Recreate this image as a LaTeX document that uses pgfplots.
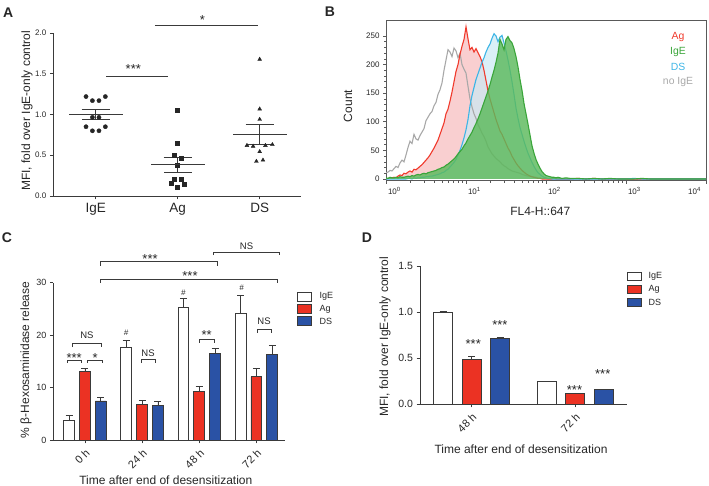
\documentclass[border=0pt]{standalone}
\usepackage{fontspec}
\setmainfont{Liberation Sans}
\usepackage{pgfplots}
\usepackage{pgfplotstable}
\pgfplotsset{compat=1.18}

\definecolor{axisgray}{HTML}{3A3A3A}
\definecolor{agred}{HTML}{EB3223}
\definecolor{dsblue}{HTML}{2A52A5}
\definecolor{hred}{HTML}{F03A2C}
\definecolor{hpink}{HTML}{F9CFD0}
\definecolor{hcyan}{HTML}{3DB5E6}
\definecolor{hcyanfill}{HTML}{CBE9F4}
\definecolor{hgreen}{HTML}{3AA53A}
\definecolor{hgreenfill}{HTML}{5CBA5C}
\definecolor{hgrey}{HTML}{A8A8A8}

\newcommand{\fsz}[1]{\fontsize{#1}{#1}\selectfont}

\tikzset{
  br/.style={line width=0.8pt, draw=axisgray},
  star/.style={font=\fsz{13}, anchor=base, inner sep=0pt, text=black!85},
  ns/.style={font=\fsz{9.5}, inner sep=0pt, text=black!85},
  hash/.style={font=\fsz{8}\itshape, inner sep=0pt, text=black!85},
}

\pgfplotsset{
  prism/.style={
    scale only axis, clip=false,
    axis x line*=bottom, axis y line*=left,
    axis line style={-, line width=0.8pt, draw=axisgray},
    tick style={line width=0.8pt, draw=axisgray},
    tick align=outside, major tick length=3.5pt,
    /pgf/number format/assume math mode=true,
    tick label style={text=black!85},
  },
  % bars sit at their own x (group position plus offset), so no bar shift
  pbar/.style={
    ybar, bar shift=0pt, fill=#1, draw=axisgray, line width=0.8pt,
    error bars/.cd, y dir=plus, y explicit, error mark=-,
    error mark options={rotate=90, line width=0.8pt, mark size=3.5pt, draw=axisgray},
    error bar style={line width=0.8pt, draw=axisgray},
  },
  semstyle/.style={
    only marks, mark=-, mark size=#1, mark options={line width=0.9pt, draw=axisgray},
    error bars/.cd, y dir=both, y explicit, error mark=-,
    error mark options={rotate=90, line width=0.9pt, mark size=14pt, draw=axisgray},
    error bar style={line width=0.9pt, draw=axisgray},
  },
}

% flow cytometry histograms: d = log10 of FL4-H, counts per channel
\pgfplotstableread{
d     noige ag  ds  ige
0.000 11   0   0   2
0.025 12   1   0   1
0.050 15   1   0   3
0.075 14   2   0   2
0.100 18   3   0   2
0.125 22   2   0   3
0.150 20   5   0   2
0.175 28   7   0   4
0.200 33   6   0   3
0.225 30   10  0   3
0.250 42   9   0   4
0.275 55   12  1   5
0.300 66   14  1   4
0.325 62   12  0   6
0.350 78   17  2   5
0.375 70   16  1   7
0.400 68   19  2   8
0.425 76   22  2   7
0.450 82   25  3   9
0.475 88   29  3   10
0.500 102  33  4   9
0.525 108  37  4   11
0.550 114  42  5   12
0.575 118  48  5   13
0.600 128  54  6   14
0.625 134  61  7   15
0.650 148  68  8   17
0.675 156  78  9   18
0.700 168  88  11  20
0.725 190  98  12  21
0.750 208  114 15  24
0.775 226  122 17  26
0.800 222  136 21  29
0.825 214  152 25  32
0.850 229  170 29  35
0.875 224  188 34  39
0.900 212  200 42  44
0.925 220  218 50  48
0.950 200  232 60  52
0.975 192  244 72  58
1.000 185  266 86  63
1.025 162  245 104 70
1.050 140  226 128 76
1.075 126  230 146 82
1.100 114  222 160 90
1.125 106  228 174 97
1.150 95   221 184 105
1.175 88   214 194 114
1.200 80   205 204 124
1.225 74   190 212 134
1.250 66   172 222 144
1.275 56   154 230 154
1.300 50   140 236 165
1.325 44   128 246 178
1.350 40   116 254 190
1.375 36   104 250 204
1.400 33   94  240 220
1.425 30   84  248 244
1.450 26   78  251 236
1.475 23   70  238 226
1.500 21   62  224 244
1.525 18   54  208 249
1.550 16   48  190 242
1.575 14   40  170 238
1.600 13   34  148 228
1.625 12   28  124 214
1.650 11   23  106 196
1.675 10   19  90  174
1.700 8    15  78  155
1.725 7    12  66  132
1.750 6    9   55  114
1.775 5    7   45  96
1.800 5    5   37  77
1.825 4    4   29  58
1.850 3    3   22  45
1.875 3    2   16  34
1.900 2    1   11  26
1.925 2    1   8   19
1.950 1    0   5   13
1.975 1    0   3   9
2.000 1    0   2   6
2.025 0    0   1   5
2.050 0    0   1   4
2.075 0    0   0   3
2.100 0    1   0   3
2.125 0    0   0   2
2.150 0    0   0   3
2.175 0    0   0   2
2.200 0    0   0   1
2.250 0    0   0   2
2.300 0    0   0   1
2.400 0    1   0   1
2.500 0    0   0   0
2.600 0    1   0   1
2.700 0    0   0   0
2.800 0    0   0   1
2.900 0    0   0   0
3.000 0    0   0   0
3.100 0    0   1   0
3.200 0    0   0   1
3.300 0    0   0   0
4.000 0    0   0   0
}\histdata

\begin{document}
\begin{tikzpicture}[x=1pt,y=1pt]
\path[use as bounding box] (0,0) rectangle (709,486);

% ---------------- A: MFI scatter ----------------
\begin{axis}[prism, at={(53.3pt,290pt)}, anchor=south west,
  width=247.7pt, height=163pt,
  xmin=-0.517, xmax=2.504, ymin=0, ymax=2,
  xtick={0,1,2}, xticklabels={IgE,Ag,DS},
  x tick label style={font=\fsz{13.5}},
  ytick={0,0.5,1,1.5,2},
  y tick label style={font=\fsz{8}, /pgf/number format/.cd, fixed, fixed zerofill, precision=1},
]
\addplot[only marks, mark=*, mark size=2.1pt, black!85] coordinates {
  (-0.118,1.22) (0.118,1.22) (-0.04,1.17) (0.04,1.17) (-0.04,0.965)
  (0.04,0.965) (-0.118,0.85) (0.118,0.85) (-0.04,0.80) (0.04,0.80)};
\addplot[only marks, mark=square*, mark size=2pt, black!85] coordinates {
  (1,1.05) (1,0.647) (0.96,0.50) (1.04,0.458) (1,0.376)
  (0.96,0.208) (1.04,0.208) (0.92,0.155) (1.08,0.15) (1,0.107)};
\addplot[only marks, mark=triangle*, mark size=2.2pt, black!85] coordinates {
  (2,1.677) (2,1.067) (2,0.94) (1.845,0.62) (1.92,0.61)
  (2.07,0.62) (2.155,0.63) (2,0.544) (1.96,0.425) (2.04,0.44)};
% mean and SEM
\addplot[semstyle=27pt] coordinates {
  (0,1.001) +- (0,0.058)
  (1,0.386) +- (0,0.092)
  (2,0.757) +- (0,0.125)};
\draw[br] (axis cs:0.126,1.469) -- (axis cs:0.88,1.469);
\node[star] at (axis cs:0.459,1.503) {***};
\draw[br] (axis cs:0.723,2.098) -- (axis cs:1.98,2.098);
\node[star] at (axis cs:1.30,2.10) {*};
\end{axis}

% ---------------- B: histogram ----------------
\begin{axis}[scale only axis, at={(386pt,305.3pt)}, anchor=south west,
  width=320pt, height=160.7pt,
  xmode=log, xmin=1, xmax=10000, ymin=-3, ymax=278,
  axis line style={line width=0.8pt, draw=black!65},
  tick style={line width=0.6pt, draw=black!65},
  tick align=outside, tick pos=left,
  major tick length=3pt, minor tick length=2pt,
  xtick={1,10,100,1000},
  xticklabels={10\textsuperscript{0},10\textsuperscript{1},10\textsuperscript{2},10\textsuperscript{3}},
  x tick label style={anchor=north west, xshift=-1.5pt},
  extra x ticks={10000},
  extra x tick labels={10\textsuperscript{4}},
  extra x tick style={x tick label style={anchor=north east, xshift=0pt}},
  ytick={0,50,100,150,200,250}, minor y tick num=4,
  /pgf/number format/assume math mode=true,
  tick label style={font=\fsz{8}, text=black!85},
]
\addplot[draw=none, fill=hpink] table[x expr=10^\thisrow{d}, y=ag] {\histdata} \closedcycle;
\addplot[draw=none, fill=hcyanfill, fill opacity=0.7] table[x expr=10^\thisrow{d}, y=ds] {\histdata} \closedcycle;
\addplot[hgrey, line width=1.1pt] table[x expr=10^\thisrow{d}, y=noige] {\histdata};
\addplot[hred, line width=1.1pt] table[x expr=10^\thisrow{d}, y=ag] {\histdata};
\addplot[hcyan, line width=1.1pt] table[x expr=10^\thisrow{d}, y=ds] {\histdata};
\addplot[draw=none, fill=hgreenfill, fill opacity=0.82] table[x expr=10^\thisrow{d}, y=ige] {\histdata} \closedcycle;
\addplot[hgreen, line width=1.1pt] table[x expr=10^\thisrow{d}, y=ige] {\histdata};
\end{axis}

% ---------------- C: beta-hexosaminidase release ----------------
% groups at 0,1,2,3; IgE at -0.277, Ag at 0, DS at +0.277 within a group
\begin{axis}[prism, at={(53.3pt,46pt)}, anchor=south west,
  width=231.7pt, height=157.3pt,
  xmin=-0.553, xmax=3.5, ymin=0, ymax=30,
  xtick={0,1,2,3}, xticklabels={0 h,24 h,48 h,72 h},
  x tick label style={font=\fsz{11}, rotate=45, anchor=north east},
  ytick={0,10,20,30},
  y tick label style={font=\fsz{9}},
  bar width=0.19,
]
\addplot[pbar=white]
  coordinates {(-0.277,3.7) +- (0,0.9) (0.723,17.6) +- (0,1.35) (1.723,25.25) +- (0,1.85) (2.723,24.1) +- (0,3.5)};
\addplot[pbar=agred]
  coordinates {(0,13.1) +- (0,0.5) (1,6.74) +- (0,0.76) (2,9.29) +- (0,0.9) (3,12.1) +- (0,1.5)};
\addplot[pbar=dsblue]
  coordinates {(0.277,7.44) +- (0,0.76) (1.277,6.6) +- (0,0.76) (2.277,16.5) +- (0,0.95) (3.277,16.4) +- (0,1.7)};
% within-time comparisons
\draw[br] (axis cs:-0.314,14.64) |- (axis cs:-0.065,15.27) -- (axis cs:-0.065,14.64);
\node[star] at (axis cs:-0.187,14.79) {***};
\draw[br] (axis cs:0.052,14.64) |- (axis cs:0.307,15.27) -- (axis cs:0.307,14.64);
\node[star] at (axis cs:0.18,14.79) {*};
\draw[br] (axis cs:-0.216,17.7) |- (axis cs:0.285,18.45) -- (axis cs:0.285,17.7);
\node[ns] at (axis cs:0.035,19.9) {NS};
\draw[br] (axis cs:0.983,14.7) |- (axis cs:1.227,15.4) -- (axis cs:1.227,14.7);
\node[ns] at (axis cs:1.105,16.55) {NS};
\draw[br] (axis cs:2.0,18.57) |- (axis cs:2.257,19.22) -- (axis cs:2.257,18.57);
\node[star] at (axis cs:2.129,19.12) {**};
\draw[br] (axis cs:3.01,20.48) |- (axis cs:3.26,21.13) -- (axis cs:3.26,20.48);
\node[ns] at (axis cs:3.134,22.58) {NS};
\node[hash] at (axis cs:0.722,20.36) {\#};
\node[hash] at (axis cs:1.721,28.11) {\#};
\node[hash] at (axis cs:2.74,28.95) {\#};
% between-time comparisons
\draw[br] (axis cs:0.267,33.2) |- (axis cs:2.314,34.03) -- (axis cs:2.314,33.2);
\node[star] at (axis cs:1.14,33.68) {***};
\draw[br] (axis cs:2.244,35.25) |- (axis cs:3.396,35.74) -- (axis cs:3.396,35.25);
\node[ns] at (axis cs:2.827,37.02) {NS};
\draw[br] (axis cs:0.267,30.02) |- (axis cs:3.36,30.67) -- (axis cs:3.36,30.02);
\node[star] at (axis cs:1.838,30.38) {***};
\end{axis}

% ---------------- D: MFI after desensitization ----------------
% groups at 0,1; IgE at -0.276, Ag at 0, DS at +0.276 within a group
\begin{axis}[prism, at={(420pt,82pt)}, anchor=south west,
  width=206.7pt, height=138pt,
  xmin=-0.5, xmax=1.5, ymin=0, ymax=1.5,
  xtick={0,1}, xticklabels={48 h,72 h},
  x tick label style={font=\fsz{11}, rotate=45, anchor=north east},
  ytick={0,0.5,1,1.5},
  y tick label style={font=\fsz{10.5}, /pgf/number format/.cd, fixed, fixed zerofill, precision=1},
  bar width=0.183,
]
\addplot[pbar=white]
  coordinates {(-0.276,1.0) +- (0,0.004) (0.724,0.247) +- (0,0.003)};
\addplot[pbar=agred]
  coordinates {(0,0.486) +- (0,0.028) (1,0.112) +- (0,0.008)};
\addplot[pbar=dsblue]
  coordinates {(0.276,0.71) +- (0,0.01) (1.276,0.155) +- (0,0.004)};
\node[star] at (axis cs:0.015,0.603) {***};
\node[star] at (axis cs:0.273,0.813) {***};
\node[star] at (axis cs:0.995,0.107) {***};
\node[star] at (axis cs:1.268,0.277) {***};
\end{axis}

% ---------------- titles, axis labels, keys ----------------
\begin{scope}[every node/.style={text=black!85}]
\node[font=\fsz{14}\bfseries] at (8.3,473.7) {A};
\node[font=\fsz{14}\bfseries] at (330,474) {B};
\node[font=\fsz{14}\bfseries] at (7,248) {C};
\node[font=\fsz{14}\bfseries] at (367,248) {D};

\node[font=\fsz{12}, rotate=90] at (27,375.2) {MFI, fold over IgE-only control};
\node[font=\fsz{12}, rotate=90] at (348,380) {Count};
\node[font=\fsz{12}] at (540.3,275) {FL4-H::647};
\node[font=\fsz{12}, rotate=90] at (26,126) {\% β-Hexosaminidase release};
\node[font=\fsz{12}, anchor=base, inner sep=0pt] at (165.8,1.5) {Time after end of desensitization};
\node[font=\fsz{12}, rotate=90] at (385,149.3) {MFI, fold over IgE-only control};
\node[font=\fsz{12}] at (521,37) {Time after end of desensitization};

\node[font=\fsz{10.4}, text=hred] at (678,448.7) {Ag};
\node[font=\fsz{10.4}, text=hgreen] at (678,434.3) {IgE};
\node[font=\fsz{10.4}, text=hcyan] at (678,419.3) {DS};
\node[font=\fsz{10.4}, text=hgrey] at (678,403.7) {no IgE};

\draw[line width=0.8pt, draw=axisgray, fill=white] (297.7,185) rectangle (311.7,193.7);
\draw[line width=0.8pt, draw=axisgray, fill=agred] (297.7,172.7) rectangle (311.7,181.4);
\draw[line width=0.8pt, draw=axisgray, fill=dsblue] (297.7,160.7) rectangle (311.7,169.4);
\node[font=\fsz{9}, anchor=west] at (316,189.3) {IgE};
\node[font=\fsz{9}, anchor=west] at (316,177) {Ag};
\node[font=\fsz{9}, anchor=west] at (316,165) {DS};

\draw[line width=0.8pt, draw=axisgray, fill=white] (627.7,206) rectangle (641,214);
\draw[line width=0.8pt, draw=axisgray, fill=agred] (627.7,193) rectangle (641,201);
\draw[line width=0.8pt, draw=axisgray, fill=dsblue] (627.7,179.7) rectangle (641,187.7);
\node[font=\fsz{9}, anchor=west] at (645,210) {IgE};
\node[font=\fsz{9}, anchor=west] at (645,197) {Ag};
\node[font=\fsz{9}, anchor=west] at (645,183.7) {DS};
\end{scope}
\end{tikzpicture}
\end{document}
